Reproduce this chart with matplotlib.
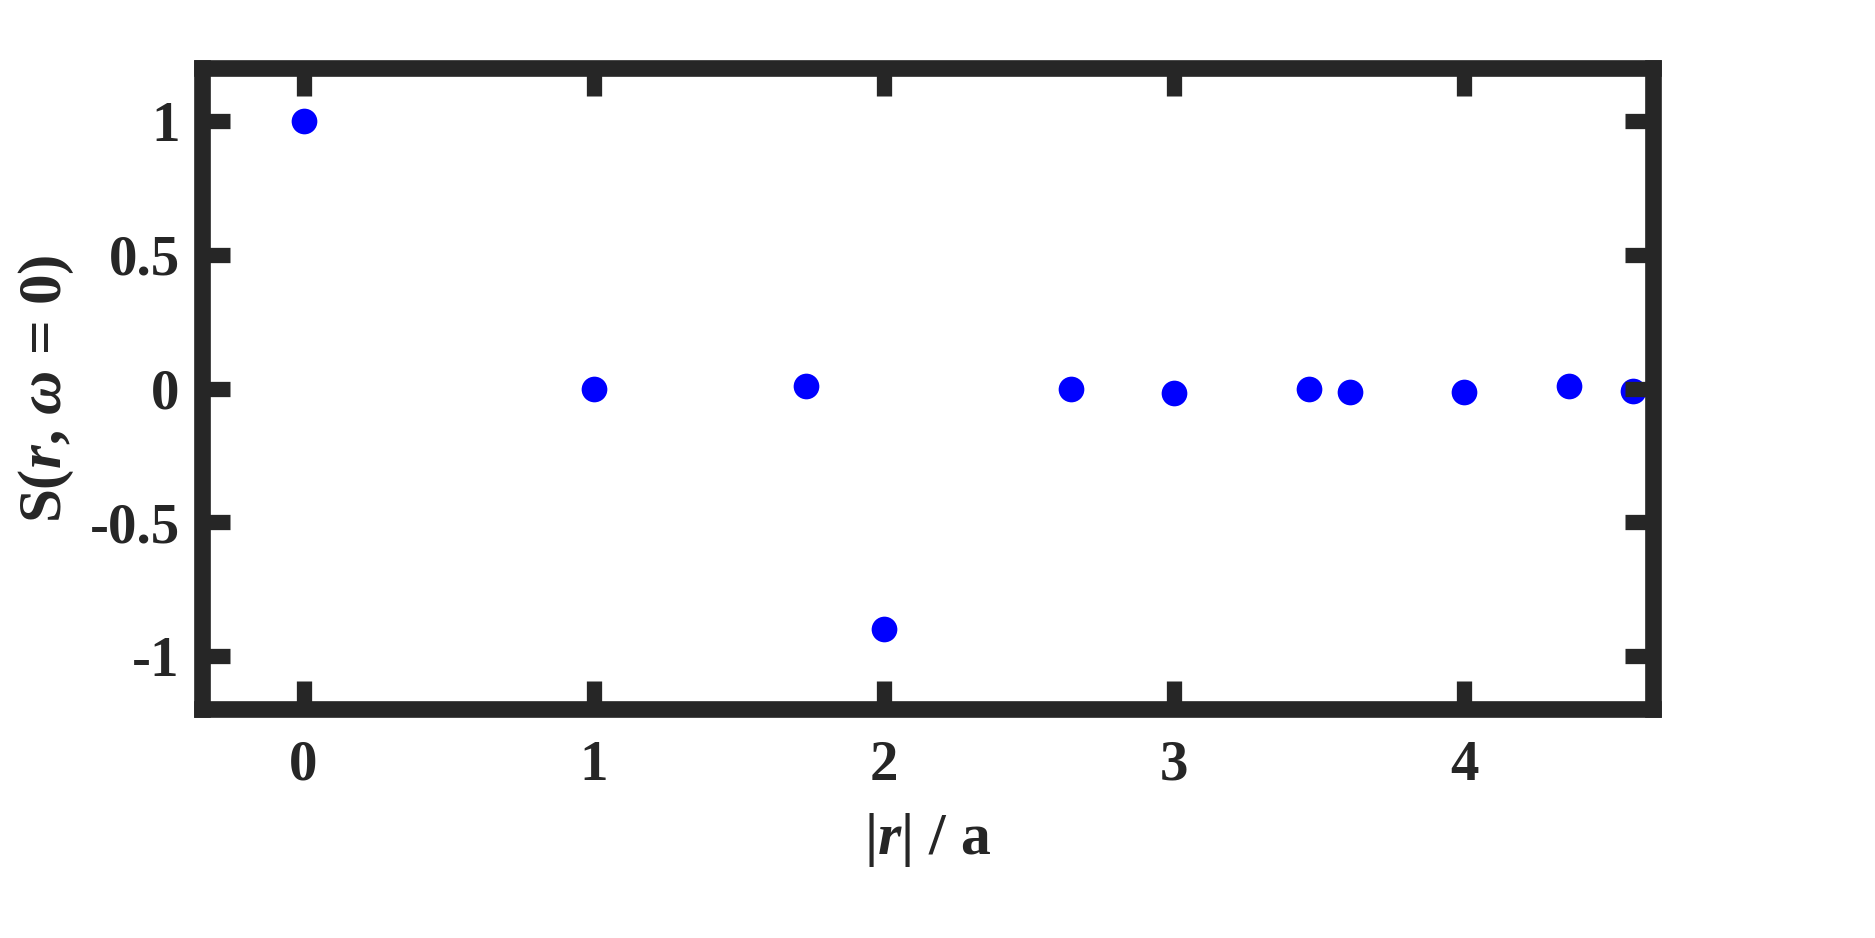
import numpy as np
import matplotlib
matplotlib.use("Agg")
import matplotlib.pyplot as plt

# distances on the triangular lattice (in units of a)
r_dist = [0.0, 1.0, np.sqrt(3), 2.0, np.sqrt(7), 3.0, np.sqrt(12), np.sqrt(13), 4.0, np.sqrt(19), np.sqrt(21)]
s_vals = [1.0, 0.0, 0.01, -0.9, 0.0, -0.015, 0.0, -0.012, -0.012, 0.008, -0.008]

x_ticks = [0, 1, 2, 3, 4]
y_ticks = [-1, -0.5, 0, 0.5, 1]
y_ticklabels = ['-1', '-0.5', '0', '0.5', '1']

plt.rcParams['font.family'] = 'Liberation Serif'
plt.rcParams['font.weight'] = 'bold'
plt.rcParams['mathtext.fontset'] = 'custom'
plt.rcParams['mathtext.rm'] = 'Liberation Serif:bold'
plt.rcParams['mathtext.it'] = 'Liberation Serif:bold:italic'
plt.rcParams['mathtext.bf'] = 'Liberation Serif:bold'
plt.rcParams['mathtext.sf'] = 'Liberation Serif:italic'

dark = '#262626'

fig = plt.figure(figsize=(18.75, 9.38), dpi=100)
ax = fig.add_axes([0.1077, 0.2441, 0.8816 - 0.1077, 0.9275 - 0.2441])

ax.plot(r_dist, s_vals, 'o', color='#0000ff', markersize=18.5, markeredgewidth=0)
ax.set_axisbelow(False)  # ticks drawn over the markers

ax.set_xlim(-0.35, 4.65)
ax.set_ylim(-1.2, 1.2)
ax.set_xticks(x_ticks)
ax.set_yticks(y_ticks)
ax.set_yticklabels(y_ticklabels)

for sp in ax.spines.values():
    sp.set_linewidth(12)
    sp.set_color(dark)

ax.tick_params(axis='both', direction='in', length=20, width=11, color=dark,
               labelsize=41, labelcolor=dark, top=True, right=True)
ax.tick_params(axis='x', pad=22)
ax.tick_params(axis='y', pad=16)

ax.set_xlabel(r'|$r$| / a', fontsize=43, fontweight='bold', color=dark, labelpad=14)
ax.set_ylabel('S($r$, $\\mathsf{ω}$ = 0)', fontsize=44, fontweight='bold',
              color=dark, labelpad=10)

fig.savefig('out.png', dpi=100, facecolor='white')
